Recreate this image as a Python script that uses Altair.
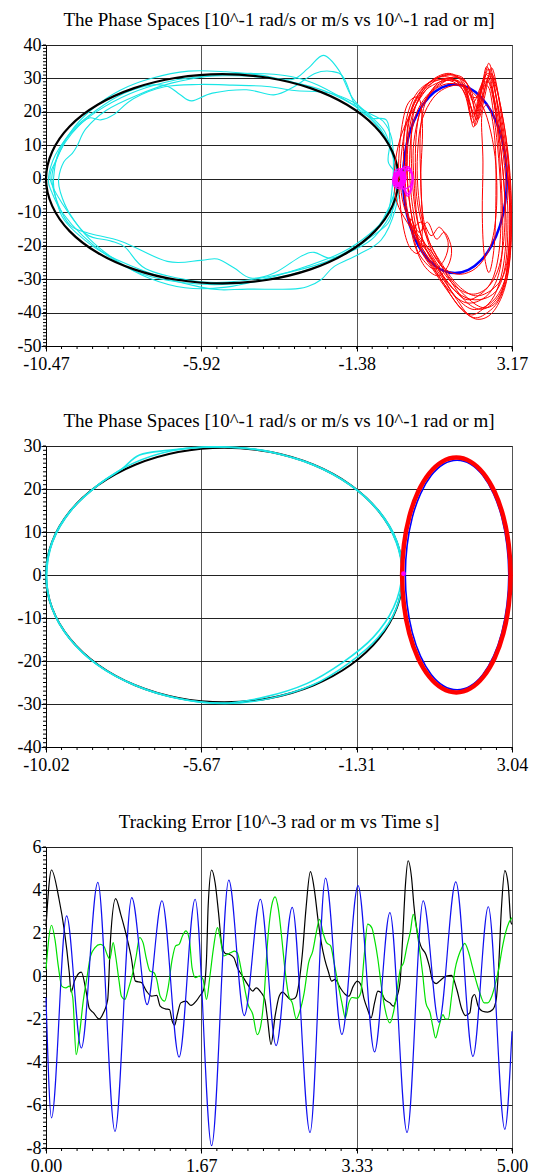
import altair as alt
import numpy as np
import pandas as pd

FONT = "Liberation Serif"
W, H = 466, 301

# ---------------- Panel 1 : phase spaces (disturbed) ----------------
P1_TITLE = "The Phase Spaces [10^-1 rad/s or m/s vs 10^-1 rad or m]"
P1_XDOM = [-10.47, 3.17]
P1_YDOM = [-50, 40]

p1_black = [(-0.15, 0), (-0.33, 8.1), (-0.84, 15.65), (-1.66, 22.13), (-2.73, 27.1), (-3.97, 30.2),
            (-5.31, 31.3), (-6.65, 30.2), (-7.89, 27.1), (-8.96, 22.13), (-9.78, 15.65), (-10.29, 8.1),
            (-10.47, 0), (-10.29, -8.1), (-9.78, -15.65), (-8.96, -22.13), (-7.89, -27.1), (-6.65, -30.2),
            (-5.31, -31.3), (-3.97, -30.2), (-2.73, -27.1), (-1.66, -22.13), (-0.84, -15.65), (-0.33, -8.1)]

p1_cyan = [
    [(-10.30, 0), (-10.15, 6), (-9.75, 14), (-9.1, 21), (-8.3, 26.5), (-7.4, 30), (-6.3, 32.2), (-5.2, 32.0),
     (-4.2, 31.0), (-3.3, 29.6), (-2.8, 33.0), (-2.35, 36.9), (-1.9, 32.5), (-1.55, 25), (-1.15, 20),
     (-0.65, 14.5), (-0.3, 7), (-0.2, 0), (-0.3, -8.8), (-0.85, -17.3), (-1.44, -21.2), (-2.13, -23.7),
     (-2.62, -22.0), (-3.01, -23.2), (-3.79, -28.2), (-4.47, -29.7), (-4.96, -26.7), (-5.45, -24.0),
     (-5.94, -24.4), (-6.92, -24.7), (-8.24, -18.8), (-9.22, -16.3), (-9.75, -14.0), (-10.1, -8)],
    [(-10.25, 0), (-10.1, 8), (-9.7, 14.5), (-9.0, 20.5), (-8.2, 25.5), (-7.4, 28), (-6.9, 27.6), (-6.55, 25.2),
     (-6.2, 23.3), (-5.6, 25.6), (-4.6, 26.6), (-3.8, 25.1), (-3.2, 27.6), (-2.6, 31.5), (-2.1, 32.1),
     (-1.75, 30.1), (-1.4, 21.6), (-0.95, 18.2), (-0.5, 17.5), (-0.4, 11), (-0.45, 5), (-0.15, 0),
     (-0.25, -9.3), (-0.66, -18.3), (-1.34, -22.7), (-2.03, -26.2), (-2.42, -30.2), (-2.81, -32.2),
     (-3.3, -33.0), (-4.57, -33.0), (-5.35, -33.2), (-5.94, -32.4), (-7.21, -29.0), (-8.77, -22.3),
     (-9.6, -16), (-10.0, -11.3), (-10.2, -5)],
    [(-10.35, 0), (-10.2, 5), (-9.9, 11), (-9.5, 16), (-9.2, 18.2), (-8.87, 17.6), (-8.5, 19.1), (-7.9, 24),
     (-7.0, 27.5), (-6.0, 28.2), (-5.0, 28.0), (-4.0, 27.6), (-3.2, 26.4), (-2.2, 25.7), (-1.5, 23),
     (-1.0, 19), (-0.55, 14), (-0.3, 6), (-0.25, 0), (-0.3, -6), (-0.46, -13.3), (-1.34, -19.8),
     (-2.32, -25.0), (-3.79, -28.9), (-5.16, -30.9), (-6.23, -30.4), (-7.55, -26.9), (-8.15, -20.5),
     (-8.6, -18.5), (-9.3, -16.5), (-10.0, -7.3)],
    [(-10.4, 0), (-10.2, 7), (-9.75, 13.5), (-9.0, 20), (-8.0, 25.5), (-7.0, 28.8), (-6.0, 30.5), (-5.0, 30.8),
     (-4.0, 30.2), (-3.0, 28.3), (-2.2, 25.8), (-1.4, 21.5), (-0.8, 16), (-0.4, 9), (-0.2, 2), (-0.3, -5),
     (-0.6, -12), (-1.1, -18.5), (-1.9, -23.5), (-2.9, -27.5), (-4.0, -30.2), (-5.3, -31.6), (-6.5, -31.0),
     (-7.7, -28.3), (-8.6, -23.5), (-9.4, -17), (-10.0, -10), (-10.3, -4)],
    [(-10.1, 0), (-9.95, 5), (-9.7, 7.6), (-9.55, 10), (-9.3, 15), (-8.7, 20.5), (-7.8, 25), (-6.8, 28.6),
     (-5.6, 30.8), (-4.4, 31.5), (-3.3, 30.6), (-2.5, 28), (-1.6, 23), (-1.0, 19.5), (-0.6, 17.2),
     (-0.35, 12), (-0.3, 4), (-0.35, -4), (-0.5, -11), (-1.0, -16.5), (-1.8, -22), (-2.8, -26),
     (-3.9, -29.5), (-5.2, -32.4), (-6.4, -32.6), (-7.5, -29.5), (-8.4, -24.5), (-9.2, -18), (-9.8, -10),
     (-10.05, -4)],
]

p1_blue = [(3.02, 0), (2.968, 7.3), (2.816, 14.1), (2.575, 19.94), (2.26, 24.42), (1.894, 27.24), (1.5, 28.2),
           (1.106, 27.24), (0.74, 24.42), (0.425, 19.94), (0.184, 14.1), (0.032, 7.3), (-0.02, 0),
           (0.032, -7.3), (0.184, -14.1), (0.425, -19.94), (0.74, -24.42), (1.106, -27.24), (1.5, -28.2),
           (1.894, -27.24), (2.26, -24.42), (2.575, -19.94), (2.816, -14.1), (2.968, -7.3)]

p1_red = [
    [(0.1, 0), (0.08, 10), (0.15, 18), (0.35, 24), (0.7, 28.5), (1.1, 30.5), (1.5, 29.5), (1.8, 25), (2.0, 17),
     (2.15, 20), (2.3, 28), (2.42, 33.5), (2.55, 30), (2.7, 20), (2.85, 8), (2.95, -4), (3.0, -16), (2.9, -27),
     (2.65, -35), (2.25, -39.5), (1.9, -40.5), (1.55, -36), (1.15, -30), (0.75, -24), (0.45, -19), (0.25, -12)],
    [(0.25, 0), (0.22, 12), (0.3, 20), (0.55, 26), (0.9, 30), (1.35, 31.5), (1.7, 29), (1.95, 22), (2.1, 19.5),
     (2.25, 27), (2.4, 32), (2.5, 34.5), (2.62, 30), (2.8, 18), (3.0, 5), (3.1, -7), (3.08, -20), (2.95, -31),
     (2.7, -37), (2.3, -38.5), (1.8, -35), (1.3, -29), (0.9, -23), (0.55, -18), (0.35, -10)],
    [(0.0, 2), (0.02, 14), (0.2, 22), (0.5, 27), (0.95, 29.5), (1.45, 29), (1.8, 25.5), (1.95, 19), (2.05, 15.5),
     (2.2, 21), (2.32, 29), (2.45, 31), (2.6, 26), (2.75, 14), (2.85, 0), (2.9, -14), (2.85, -25), (2.65, -32),
     (2.3, -36), (1.8, -37), (1.3, -33), (0.85, -26), (0.5, -20), (0.25, -16), (0.05, -8)],
    [(0.35, 0), (0.35, 10), (0.45, 19), (0.75, 25.5), (1.15, 29), (1.55, 29.5), (1.85, 27), (2.05, 23),
     (2.25, 27.5), (2.45, 31.5), (2.65, 29), (2.85, 21), (3.02, 10), (3.1, -4), (3.1, -18), (2.95, -28),
     (2.6, -33), (2.1, -35), (1.6, -32), (1.15, -26), (0.8, -20), (0.55, -14), (0.4, -7)],
    [(-0.1, 0), (-0.05, 9), (0.1, 17), (0.4, 24), (0.8, 28.5), (1.25, 30), (1.6, 29), (1.85, 26), (2.05, 19),
     (2.2, 25), (2.4, 30), (2.55, 27), (2.72, 18), (2.85, 8), (2.95, -4), (2.95, -16), (2.8, -26), (2.5, -32),
     (2.05, -34.5), (1.55, -32.5), (1.05, -26.5), (0.65, -20), (0.3, -15), (0.0, -8)],
    [(0.4, 0), (0.42, 10), (0.55, 18), (0.85, 24), (1.2, 27), (1.6, 28), (1.95, 26.5), (2.3, 22), (2.55, 14),
     (2.7, 4), (2.72, -8), (2.6, -18), (2.35, -24), (2.0, -27.5), (1.55, -28.5), (1.1, -26), (0.75, -20),
     (0.5, -10)],
    [(0.12, -2), (0.12, 10), (0.25, 19), (0.55, 25.5), (0.95, 28.5), (1.35, 29.5), (1.7, 28), (1.95, 22),
     (2.1, 16), (2.28, 22), (2.45, 30), (2.6, 29), (2.78, 20), (2.95, 8), (3.1, -4), (3.15, -16), (3.05, -28),
     (2.8, -36), (2.45, -40), (2.05, -41.5), (1.6, -38), (1.15, -31), (0.75, -25), (0.45, -20), (0.25, -12)],
    [(0.5, 0), (0.48, 12), (0.58, 21), (0.85, 27), (1.25, 30), (1.65, 30), (1.95, 27), (2.15, 21), (2.32, 25),
     (2.5, 31), (2.65, 30), (2.85, 21), (3.05, 8), (3.15, -6), (3.12, -20), (2.98, -30), (2.72, -36),
     (2.3, -39), (1.85, -37), (1.4, -31), (1.0, -24), (0.72, -18), (0.55, -10)],
    [(-0.28, 0), (-0.2, 8), (0.0, 15), (0.3, 21), (0.65, 26.5), (1.05, 30.5), (1.45, 31), (1.8, 28),
     (1.97, 19), (2.12, 20), (2.3, 27), (2.5, 27), (2.65, 18), (2.78, 6), (2.85, -8), (2.8, -21), (2.6, -30),
     (2.25, -34.5), (1.8, -36), (1.3, -31), (0.85, -24), (0.45, -18), (0.1, -13), (-0.2, -7)],
    [(0.18, 0), (0.2, 11), (0.35, 19), (0.65, 24.5), (1.05, 28), (1.5, 30.5), (1.85, 28.5), (2.05, 22),
     (2.2, 18), (2.38, 25), (2.55, 33), (2.7, 29), (2.9, 16), (3.08, 3), (3.15, -10), (3.12, -23),
     (2.95, -33), (2.6, -40), (2.15, -42), (1.7, -39), (1.25, -33), (0.85, -27), (0.5, -21), (0.3, -11)],
    [(0.05, 0), (0.1, 13), (0.25, 21), (0.5, 26), (0.85, 29.5), (1.3, 31), (1.75, 30), (2.0, 24), (2.12, 17.5),
     (2.27, 23), (2.4, 31), (2.52, 32.5), (2.68, 26), (2.9, 14), (3.05, 0), (3.12, -14), (3.05, -26),
     (2.85, -33), (2.5, -37.5), (2.0, -39), (1.5, -35), (1.1, -28.5), (0.7, -22), (0.35, -17), (0.1, -9)],
    [(0.3, 0), (0.28, 9), (0.4, 17), (0.6, 23), (0.95, 27), (1.35, 28.5), (1.75, 27.5), (2.0, 24.5), (2.2, 25),
     (2.4, 29), (2.58, 27), (2.78, 17), (2.95, 4), (3.05, -10), (3.0, -24), (2.8, -32), (2.45, -35.5),
     (1.95, -36), (1.45, -33), (1.0, -27), (0.65, -21), (0.4, -12)],
    [(2.28, 18), (2.32, 5), (2.3, -10), (2.35, -22), (2.5, -28), (2.65, -20), (2.7, -5), (2.68, 10),
     (2.55, 20), (2.4, 22)],
    [(-0.15, 0), (-0.1, 12), (0.1, 22), (0.45, 24), (0.55, 15), (0.5, 0), (0.55, -14), (0.45, -22),
     (0.15, -20), (-0.05, -12)],
    [(0.3, -15), (0.55, -13), (0.8, -17), (1.05, -14.5), (1.3, -19), (1.2, -24), (0.9, -27), (0.55, -24),
     (0.35, -20)],
    [(0.2, -12), (0.45, -16), (0.7, -13), (0.95, -18), (1.2, -16), (1.4, -21), (1.3, -26), (1.0, -29),
     (0.6, -26), (0.3, -19)],
]

p1_magenta = [
    [(-0.3, 0), (-0.25, 2.5), (0.0, 3), (0.2, 2), (0.25, 0), (0.15, -2.5), (-0.1, -3), (-0.3, -2)],
    [(-0.2, 0), (0.0, 3.5), (0.2, 2.5), (0.28, 0), (0.22, -3.5), (0.1, -5.2), (0.0, -3), (-0.2, -1.5)],
    [(0.0, 0), (0.12, 3.6), (0.25, 1.5), (0.2, -3), (0.1, -4.5), (0.02, -2)],
    [(-0.26, 0.5), (-0.2, 1.4), (-0.1, 1.6), (-0.04, 0.4), (-0.07, -1.2), (-0.18, -1.7), (-0.27, -0.8)],
    [(-0.22, 0.8), (-0.12, 2.0), (0.0, 1.2), (0.0, -0.8), (-0.1, -2.0), (-0.22, -1.2)],
]

# ---------------- Panel 2 : phase spaces (converged) ----------------
P2_XDOM = [-10.02, 3.04]
P2_YDOM = [-40, 30]

p2_black = [(-0.02, 0), (-0.19, 7.67), (-0.69, 14.8), (-1.485, 20.93), (-2.52, 25.63), (-3.725, 28.59),
            (-5.02, 29.6), (-6.315, 28.59), (-7.52, 25.63), (-8.555, 20.93), (-9.35, 14.8), (-9.85, 7.67),
            (-10.02, 0), (-9.85, -7.67), (-9.35, -14.8), (-8.555, -20.93), (-7.52, -25.63), (-6.315, -28.59),
            (-5.02, -29.6), (-3.725, -28.59), (-2.52, -25.63), (-1.485, -20.93), (-0.69, -14.8), (-0.19, -7.67)]

p2_cyan = [
    [(-10.02, 0), (-9.85, 7.7), (-9.35, 14.8), (-8.55, 21.0), (-7.9, 24.6), (-7.4, 27.9), (-6.6, 29.0),
     (-5.6, 29.7), (-4.6, 29.6), (-3.7, 28.6), (-2.5, 25.6), (-1.48, 20.9), (-0.68, 14.8), (-0.18, 7.7),
     (-0.03, 0), (-0.2, -7.7), (-0.72, -14.6), (-1.55, -20.6), (-2.55, -25.6), (-3.75, -28.7), (-5.0, -29.9),
     (-6.3, -28.7), (-7.5, -25.7), (-8.55, -21.0), (-9.35, -14.8), (-9.85, -7.7)],
    [(-10.0, 0), (-9.83, 7.8), (-9.3, 15.2), (-8.5, 21.3), (-7.6, 25.9), (-6.5, 28.9), (-5.3, 29.8),
     (-4.0, 29.0), (-2.6, 25.8), (-1.5, 20.9), (-0.7, 14.8), (-0.2, 7.5), (-0.05, 0), (-0.28, -7.6),
     (-0.85, -14.5), (-1.7, -20.3), (-2.7, -25.2), (-3.9, -28.4), (-5.1, -29.8), (-6.4, -28.6),
     (-7.55, -25.6), (-8.6, -20.8), (-9.38, -14.6), (-9.86, -7.5)],
]

p2_red = [(3.0, 0), (2.948, 7.07), (2.796, 13.65), (2.555, 19.3), (2.24, 23.64), (1.874, 26.37), (1.48, 27.3),
          (1.086, 26.37), (0.72, 23.64), (0.405, 19.3), (0.164, 13.65), (0.012, 7.07), (-0.04, 0),
          (0.012, -7.07), (0.164, -13.65), (0.405, -19.3), (0.72, -23.64), (1.086, -26.37), (1.48, -27.3),
          (1.874, -26.37), (2.24, -23.64), (2.555, -19.3), (2.796, -13.65), (2.948, -7.07)]

p2_blue = [(2.95, 0), (2.9, 6.9), (2.756, 13.35), (2.525, 18.88), (2.225, 23.12), (1.875, 25.8), (1.5, 26.7),
           (1.125, 25.8), (0.775, 23.12), (0.475, 18.88), (0.244, 13.35), (0.1, 6.9), (0.05, 0),
           (0.1, -6.9), (0.244, -13.35), (0.475, -18.88), (0.775, -23.12), (1.125, -25.8), (1.5, -26.7),
           (1.875, -25.8), (2.225, -23.12), (2.525, -18.88), (2.756, -13.35), (2.9, -6.9)]

p2_magenta = [(0.0, 0.3)]

# ---------------- Panel 3 : tracking error ----------------
P3_TITLE = "Tracking Error [10^-3 rad or m vs Time s]"
P3_XDOM = [0, 5]
P3_YDOM = [-8, 6]

err_blue = [(0.0, -1.0), (0.059, -6.6), (0.221, 2.8), (0.379, -3.35), (0.556, 4.35), (0.740, -7.23),
            (0.920, 3.65), (1.085, -1.33), (1.244, 3.5), (1.428, -3.77), (1.600, 3.57), (1.777, -7.89),
            (1.961, 4.46), (2.127, -1.84), (2.300, 3.57), (2.469, -3.24), (2.642, 3.19), (2.833, -7.28),
            (2.999, 4.55), (3.175, -2.72), (3.348, 4.2), (3.525, -3.53), (3.690, 2.95), (3.874, -7.28),
            (4.047, 3.5), (4.216, -2.15), (4.397, 4.38), (4.581, -3.74), (4.746, 3.22), (4.923, -7.13),
            (5.0, -2.57)]

err_black = [(0.0, 2.3), (0.059, 4.93), (0.140, 3.57), (0.195, 2.17), (0.250, 0.15), (0.269, -0.75),
             (0.305, -0.24), (0.379, 0.18), (0.434, -0.8), (0.464, -1.5), (0.508, -1.7), (0.570, -2.0),
             (0.618, -1.7), (0.662, -1.1), (0.692, 1.7), (0.747, 3.6), (0.802, 2.87), (0.846, 2.17),
             (0.912, 0.93), (0.960, -0.24), (1.023, -0.3), (1.078, -0.7), (1.133, -0.94), (1.188, -0.9),
             (1.225, -1.4), (1.280, -1.53), (1.325, -1.56), (1.354, -2.1), (1.380, -2.29), (1.409, -1.8),
             (1.446, -1.25), (1.501, -1.17), (1.556, -1.37), (1.611, -1.17), (1.648, -0.94), (1.692, -0.63),
             (1.722, 0.78), (1.740, 3.26), (1.777, 4.93), (1.814, 4.35), (1.851, 2.95), (1.887, 1.4),
             (1.924, 1.05), (1.972, 1.0), (2.016, 0.85), (2.053, 0.39), (2.108, 0.0), (2.163, -0.39),
             (2.219, -0.7), (2.255, -0.55), (2.310, -0.78), (2.347, -1.09), (2.377, -2.0), (2.414, -3.19),
             (2.458, -1.87), (2.502, -0.94), (2.539, -0.75), (2.586, -0.94), (2.623, -1.09), (2.660, -1.06),
             (2.686, -0.94), (2.715, -0.31), (2.752, 1.09), (2.789, 3.1), (2.837, 4.85), (2.881, 3.96),
             (2.918, 2.64), (2.954, 1.55), (2.991, 0.77), (3.028, 0.23), (3.065, -0.24), (3.102, -0.16),
             (3.157, -0.55), (3.212, -0.86), (3.249, -0.94), (3.297, -0.47), (3.341, -0.24), (3.377, -0.39),
             (3.414, -1.09), (3.451, -1.56), (3.488, -1.95), (3.525, -1.25), (3.561, -0.70), (3.598, -0.78),
             (3.635, -1.09), (3.690, -1.25), (3.727, -1.4), (3.764, -1.0), (3.801, -0.16), (3.826, 1.7),
             (3.856, 4.2), (3.885, 5.36), (3.922, 4.58), (3.948, 3.26), (3.985, 2.0), (4.021, 1.4),
             (4.076, 1.0), (4.113, 0.46), (4.150, -0.24), (4.187, -0.35), (4.242, -0.16), (4.297, 0.0),
             (4.352, 0.03), (4.408, -0.63), (4.463, -1.56), (4.500, -1.84), (4.547, -1.72), (4.573, -1.0),
             (4.599, -0.86), (4.636, -1.4), (4.684, -1.64), (4.739, -1.68), (4.794, -1.56), (4.831, -1.09),
             (4.857, 0.46), (4.886, 3.1), (4.923, 4.9), (4.960, 4.2), (4.989, 2.49), (5.0, 2.4)]

err_green = [(0.0, 0.3), (0.059, 2.36), (0.096, 1.7), (0.132, 0.46), (0.169, -0.47), (0.213, -0.55),
             (0.250, -0.47), (0.287, -1.0), (0.324, -3.66), (0.361, -2.65), (0.397, -1.25), (0.442, 0.0),
             (0.478, 0.93), (0.526, 1.32), (0.581, 1.47), (0.618, 1.4), (0.662, 0.93), (0.684, 0.78),
             (0.721, 1.55), (0.747, 0.93), (0.784, -0.24), (0.809, -0.94), (0.846, -1.09), (0.883, -0.62),
             (0.931, 0.15), (0.968, 0.93), (1.004, 1.79), (1.041, 1.55), (1.078, 0.78), (1.115, 0.23),
             (1.159, 0.15), (1.188, -0.16), (1.225, -0.94), (1.273, -1.17), (1.310, -0.55), (1.354, 0.78),
             (1.391, 1.4), (1.428, 1.47), (1.464, 1.86), (1.501, 2.1), (1.538, 1.7), (1.567, 0.39),
             (1.604, -0.08), (1.648, 0.0), (1.685, -0.16), (1.722, -1.09), (1.759, 0.0), (1.795, 1.24),
             (1.840, 2.25), (1.869, 1.79), (1.906, 0.93), (1.943, 1.0), (1.979, 1.08), (2.023, 1.16),
             (2.053, 1.08), (2.090, 0.39), (2.134, -0.62), (2.163, -1.25), (2.219, -1.79), (2.266, -2.73),
             (2.303, -2.34), (2.340, -0.94), (2.377, 1.55), (2.421, 3.26), (2.458, 3.68), (2.494, 3.1),
             (2.531, 1.7), (2.568, 0.15), (2.605, -0.94), (2.642, -1.25), (2.686, -2.0), (2.723, -1.64),
             (2.770, -0.78), (2.818, 0.62), (2.862, 1.16), (2.899, 2.0), (2.936, 2.64), (2.973, 2.0),
             (3.010, 1.55), (3.054, 1.4), (3.091, 0.62), (3.138, -0.47), (3.175, -1.25), (3.212, -1.95),
             (3.249, -1.25), (3.285, -1.0), (3.341, -1.03), (3.377, -0.78), (3.414, 0.93), (3.451, 2.41),
             (3.495, 2.25), (3.532, 1.55), (3.561, 0.78), (3.598, -0.47), (3.635, -1.48), (3.690, -2.18),
             (3.727, -1.71), (3.764, -0.78), (3.801, 0.31), (3.837, 0.62), (3.874, 1.4), (3.911, 2.1),
             (3.940, 2.87), (3.974, 2.25), (4.003, 1.4), (4.040, 0.15), (4.076, -1.25), (4.121, -1.71),
             (4.150, -2.34), (4.180, -2.88), (4.216, -2.34), (4.260, -1.8), (4.286, -2.0), (4.316, -2.0),
             (4.352, -0.94), (4.389, 0.31), (4.426, 0.93), (4.463, 1.32), (4.492, 1.52), (4.536, 1.08),
             (4.573, 0.46), (4.610, -0.16), (4.654, -0.78), (4.702, -1.25), (4.739, -1.25), (4.783, -0.94),
             (4.820, -0.39), (4.857, 0.31), (4.893, 1.24), (4.930, 2.0), (4.967, 2.49), (5.0, 2.72)]


# ---------------- helpers ----------------
def loops_df(loops):
    rows = []
    for k, pts in enumerate(loops):
        for i, (x, y) in enumerate(pts):
            rows.append({"x": x, "y": y, "loop": k, "i": i})
    return pd.DataFrame(rows)


def series_df(pts):
    return pd.DataFrame(pts, columns=["x", "y"])


def encodings(xdom, ydom, ystep, xfmt):
    xt = list(np.linspace(xdom[0], xdom[1], 4))
    yt = list(np.arange(ydom[0], ydom[1] + ystep / 2, ystep))
    common = dict(grid=True, gridWidth=1, tickSize=5, tickColor="black", tickWidth=1,
                  domainColor="black", domainWidth=1, labelFont=FONT, labelFontSize=18,
                  labelColor="black", labelOverlap=False, title=None)
    X = alt.X("x:Q", scale=alt.Scale(domain=xdom, nice=False, zero=False),
              axis=alt.Axis(values=xt, gridColor="#555",
                            labelExpr="replace(format(datum.value, '" + xfmt + "'), '\u2212', '-')",
                            labelFlush=False, labelPadding=4, **common))
    Y = alt.Y("y:Q", scale=alt.Scale(domain=ydom, nice=False, zero=False),
              axis=alt.Axis(values=yt, gridColor="#222", labelExpr="datum.value + ''",
                            labelPadding=0, **common))
    return X, Y


def minor_ticks(X, Y, xdom, ydom, yminor):
    xs = pd.DataFrame({"x": np.linspace(xdom[0], xdom[1], 31)})
    ys = pd.DataFrame({"y": np.arange(ydom[0], ydom[1] + yminor / 2, yminor)})
    tx = alt.Chart(xs).mark_rule(color="black", strokeWidth=1).encode(
        x=X, y=alt.value(H), y2=alt.value(H + 3))
    ty = alt.Chart(ys).mark_rule(color="black", strokeWidth=1).encode(
        y=Y, x=alt.value(-3), x2=alt.value(0))
    return [tx, ty]


def loop_layer(loops, X, Y, color, width):
    return alt.Chart(loops_df(loops)).mark_line(
        color=color, strokeWidth=width, interpolate="cardinal-closed").encode(
        x=X, y=Y, detail="loop:N", order="i:Q")


def title(text):
    return alt.TitleParams(text, font=FONT, fontSize=19, fontWeight="normal", color="black",
                           anchor="middle", frame="group", offset=6)


# ---------------- panel 1 ----------------
X1, Y1 = encodings(P1_XDOM, P1_YDOM, 10, ".2f")
panel1 = alt.layer(
    *minor_ticks(X1, Y1, P1_XDOM, P1_YDOM, 1),
    loop_layer(p1_cyan, X1, Y1, "#19E6E6", 1.1),
    loop_layer([p1_black], X1, Y1, "#000000", 2.2),
    loop_layer([p1_blue], X1, Y1, "#0000FF", 2.5),
    loop_layer(p1_red, X1, Y1, "#FF0000", 1.0),
    loop_layer(p1_magenta[:3], X1, Y1, "#FF00FF", 1.3),
    loop_layer(p1_magenta[3:], X1, Y1, "#FF00FF", 4.5),
).properties(width=W, height=H, title=title(P1_TITLE))

# ---------------- panel 2 ----------------
X2, Y2 = encodings(P2_XDOM, P2_YDOM, 10, ".2f")
panel2 = alt.layer(
    *minor_ticks(X2, Y2, P2_XDOM, P2_YDOM, 1),
    loop_layer([p2_black], X2, Y2, "#000000", 2.0),
    loop_layer(p2_cyan, X2, Y2, "#19E6E6", 1.6),
    loop_layer([p2_blue], X2, Y2, "#0000FF", 1.6),
    loop_layer([p2_red], X2, Y2, "#FF0000", 4.5),
    alt.Chart(series_df(p2_magenta)).mark_point(filled=True, color="#FF00FF", size=22, opacity=1).encode(
        x=X2, y=Y2),
).properties(width=W, height=H, title=title(P1_TITLE))

# ---------------- panel 3 ----------------
X3, Y3 = encodings(P3_XDOM, P3_YDOM, 2, ".2f")


def err_layer(pts, color):
    return alt.Chart(series_df(pts)).mark_line(color=color, strokeWidth=1.2, interpolate="monotone").encode(
        x=X3, y=Y3)


panel3 = alt.layer(
    *minor_ticks(X3, Y3, P3_XDOM, P3_YDOM, 0.2),
    err_layer(err_black, "#000000"),
    err_layer(err_green, "#00E000"),
    err_layer(err_blue, "#1010F0"),
).properties(width=W, height=H, title=title(P3_TITLE))

chart = alt.vconcat(panel1, panel2, panel3, spacing=37).properties(
    padding={"left": 16, "top": 10, "right": 0, "bottom": 0},
    background="white",
).configure_view(stroke="#444", strokeWidth=1)

chart.save("out.html", embed_options={"renderer": "svg", "actions": False})
